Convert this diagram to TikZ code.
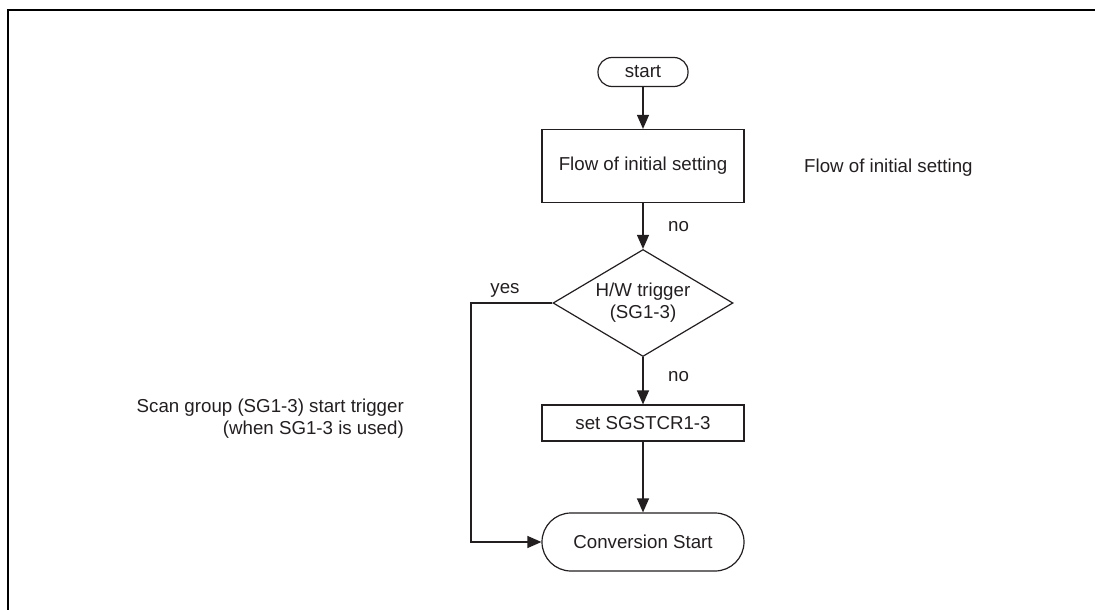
\documentclass[tikz,border=0pt]{standalone}
\usepackage{fontspec}
\setmainfont{Liberation Sans}
\usetikzlibrary{shapes.geometric,arrows.meta}
\definecolor{ink}{HTML}{231F20}
\begin{document}
\begin{tikzpicture}[x=1pt,y=-1pt,
  every node/.style={font=\fontsize{18.7}{22}\selectfont, text=ink},
  box/.style={draw=ink, line width=1.2pt, minimum width=202pt, inner sep=0pt},
  term/.style={box, rounded corners=14pt},
  dec/.style={draw=ink, line width=1.2pt, diamond, shape aspect=1.68, inner sep=0pt, minimum width=180pt, minimum height=107pt, align=center},
  lbl/.style={inner sep=0pt},
  flow/.style={draw=ink, line width=1.2pt, -{Triangle[length=14pt,width=12pt]}},
  frame/.style={draw=black, line width=2.6pt}
]
\useasboundingbox (0,0) rectangle (1095,610);
\draw[frame] (8,610) -- (8,10) -- (1095,10);

\node[term, minimum width=90pt, minimum height=29pt] (start) at (643,72) {start};
\node[box, minimum height=73pt] (init) at (643,166) {Flow of initial setting};
\node[dec] (hw) at (643,303) {H/W trigger\\(SG1-3)};
\node[box, minimum height=36pt] (set) at (643,423) {set SGSTCR1-3};
\node[box, minimum height=58pt, rounded corners=29pt] (conv) at (643,542) {Conversion Start};

\node[lbl, anchor=west] (no1) at (668,227) {no};
\node[lbl, anchor=west] (no2) at (668,377) {no};
\node[lbl] (yes) at (505,290) {yes};
\node[lbl, anchor=west] (side) at (804,168) {Flow of initial setting};
\node[lbl, anchor=east, align=right] (scan) at (404,419) {Scan group (SG1-3) start trigger\\(when SG1-3 is used)};

\coordinate (bend1) at (471,303);
\coordinate (bend2) at (471,542);

\draw[flow] (start) -- (init);
\draw[flow] (init) -- (hw);
\draw[flow] (hw) -- (set);
\draw[flow] (set) -- (conv);
\draw[flow] (hw.west) -- (bend1) -- (bend2) -- (conv.west);
\end{tikzpicture}
\end{document}
